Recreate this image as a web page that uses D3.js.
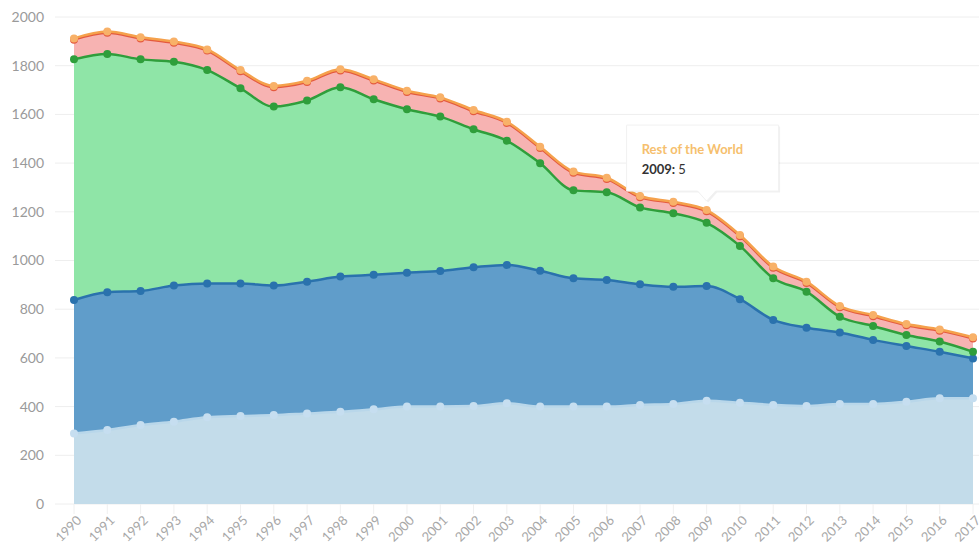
<!DOCTYPE html>
<html>
<head>
<meta charset="utf-8">
<script src="https://cdn.jsdelivr.net/npm/d3@7"></script>
<style>
  html, body { margin: 0; padding: 0; background: #fff; }
  svg { display: block; font-family: Lato, "Open Sans", sans-serif; }
</style>
</head>
<body>
<div id="chart"></div>
<script>
// values (stack order: bottom to top)
const years = d3.range(1990, 2018);
const seriesA = [290, 304, 324, 338, 356, 361, 365, 372, 379, 389, 400, 400, 402, 414, 400, 400, 400, 407, 411, 424, 416, 407, 402, 411, 411, 420, 434, 434];
const seriesB = [548, 566, 551, 559, 550, 545, 532, 541, 555, 552, 550, 557, 570, 568, 558, 527, 520, 495, 481, 471, 425, 349, 322, 293, 263, 229, 191, 164];
const seriesC = [988, 978, 951, 919, 876, 801, 735, 744, 777, 721, 671, 634, 567, 510, 441, 361, 360, 316, 302, 260, 219, 171, 148, 65, 57, 45, 42, 27];
const seriesD = [81, 87, 86, 78, 80, 70, 80, 76, 69, 77, 71, 74, 74, 73, 63, 72, 55, 42, 42, 47, 40, 43, 36, 39, 40, 40, 45, 55];
const restOfWorld = [5, 5, 5, 5, 5, 5, 5, 5, 5, 5, 5, 5, 5, 5, 5, 5, 5, 5, 5, 5, 5, 5, 5, 5, 5, 5, 5, 5];
const yTicks = [0, 200, 400, 600, 800, 1000, 1200, 1400, 1600, 1800, 2000];

const series = [
  { key: 'a', name: 'Series A', values: seriesA, fill: '#c3dcea', line: '#b9d7ea', dot: '#c6def0' },
  { key: 'b', name: 'Series B', values: seriesB, fill: '#609dca', line: '#2a72ad', dot: '#2a72ad' },
  { key: 'c', name: 'Series C', values: seriesC, fill: '#8fe5a7', line: '#2f9e3b', dot: '#2f9e3b' },
  { key: 'd', name: 'Series D', values: seriesD, fill: '#f7b3b2', line: '#e45a3e', dot: '#e45a3e' },
  { key: 'e', name: 'Rest of the World', values: restOfWorld, fill: '#fbc98d', line: '#f5a14c', dot: '#f8b168' }
];

const rows = years.map((yr, i) => {
  const r = { year: yr };
  series.forEach(s => r[s.key] = s.values[i]);
  return r;
});

const width = 979, height = 554;
const margin = { top: 17, right: 6, bottom: 50, left: 74 };

const svg = d3.select('#chart').append('svg')
  .attr('width', width)
  .attr('height', height);

const x = d3.scaleLinear()
  .domain([1990, 2017])
  .range([margin.left, width - margin.right]);

const y = d3.scaleLinear()
  .domain([0, 2000])
  .range([height - margin.bottom, margin.top]);

// grid
svg.append('g')
  .selectAll('line')
  .data(yTicks)
  .join('line')
  .attr('x1', 55)
  .attr('x2', width)
  .attr('y1', d => y(d))
  .attr('y2', d => y(d))
  .attr('stroke', '#eeeeee')
  .attr('stroke-width', 1);

// y labels
svg.append('g')
  .selectAll('text')
  .data(yTicks)
  .join('text')
  .attr('x', 44)
  .attr('y', d => y(d))
  .attr('dy', '0.35em')
  .attr('text-anchor', 'end')
  .attr('fill', '#9a9a9a')
  .style('font-size', '14px')
  .text(d => d);

// x ticks + labels
const xg = svg.append('g');
xg.selectAll('line')
  .data(years)
  .join('line')
  .attr('x1', d => x(d))
  .attr('x2', d => x(d))
  .attr('y1', y(0))
  .attr('y2', y(0) + 10)
  .attr('stroke', '#f0f0f0');

xg.selectAll('text')
  .data(years)
  .join('text')
  .attr('transform', d => `translate(${x(d) + 5},${y(0) + 14}) rotate(-45)`)
  .attr('text-anchor', 'end')
  .attr('dy', '0.35em')
  .attr('fill', '#a8a8a8')
  .style('font-size', '13px')
  .text(d => d);

const stack = d3.stack().keys(series.map(s => s.key));
const stacked = stack(rows);

const area = d3.area()
  .curve(d3.curveMonotoneX)
  .x(d => x(d.data.year))
  .y0(d => y(d[0]))
  .y1(d => y(d[1]));

const line = d3.line()
  .curve(d3.curveMonotoneX)
  .x(d => x(d.data.year))
  .y(d => y(d[1]));

const layers = svg.append('g');

layers.selectAll('path.area')
  .data(stacked)
  .join('path')
  .attr('class', 'area')
  .attr('d', area)
  .attr('fill', (d, i) => series[i].fill);

stacked.forEach((layer, i) => {
  const s = series[i];
  const g = svg.append('g');
  g.append('path')
    .attr('d', line(layer))
    .attr('fill', 'none')
    .attr('stroke', s.line)
    .attr('stroke-width', 2.5);
  g.selectAll('circle')
    .data(layer)
    .join('circle')
    .attr('cx', d => x(d.data.year))
    .attr('cy', d => y(d[1]))
    .attr('r', 4)
    .attr('fill', s.dot);
});

// tooltip for Rest of the World, 2009
const tipYear = 2009;
const topLayer = stacked[stacked.length - 1];
const tipPt = topLayer.find(d => d.data.year === tipYear);
const px = x(tipYear), py = y(tipPt[1]);
const tw = 152, th = 66;
const tx = px - 80, ty = py - 85;

const tip = svg.append('g');
const tipPath = `M${tx},${ty} h${tw} v${th} H${px + 9} l-9,10 l-9,-10 H${tx} Z`;
tip.append('path')
  .attr('d', tipPath)
  .attr('fill', 'rgba(0,0,0,0.06)')
  .attr('transform', 'translate(1.5,1.5)');
tip.append('path')
  .attr('d', tipPath)
  .attr('fill', '#ffffff')
  .attr('stroke', '#f1f1f1');
tip.append('text')
  .attr('x', tx + 15)
  .attr('y', ty + 29)
  .attr('fill', '#f6bf6e')
  .style('font-size', '13px')
  .style('font-weight', 'bold')
  .text(series[4].name);
const t2 = tip.append('text')
  .attr('x', tx + 15)
  .attr('y', ty + 49)
  .attr('fill', '#333')
  .style('font-size', '13px');
t2.append('tspan').style('font-weight', 'bold').text(tipYear + ': ');
t2.append('tspan').text(tipPt.data.e);
</script>
</body>
</html>
